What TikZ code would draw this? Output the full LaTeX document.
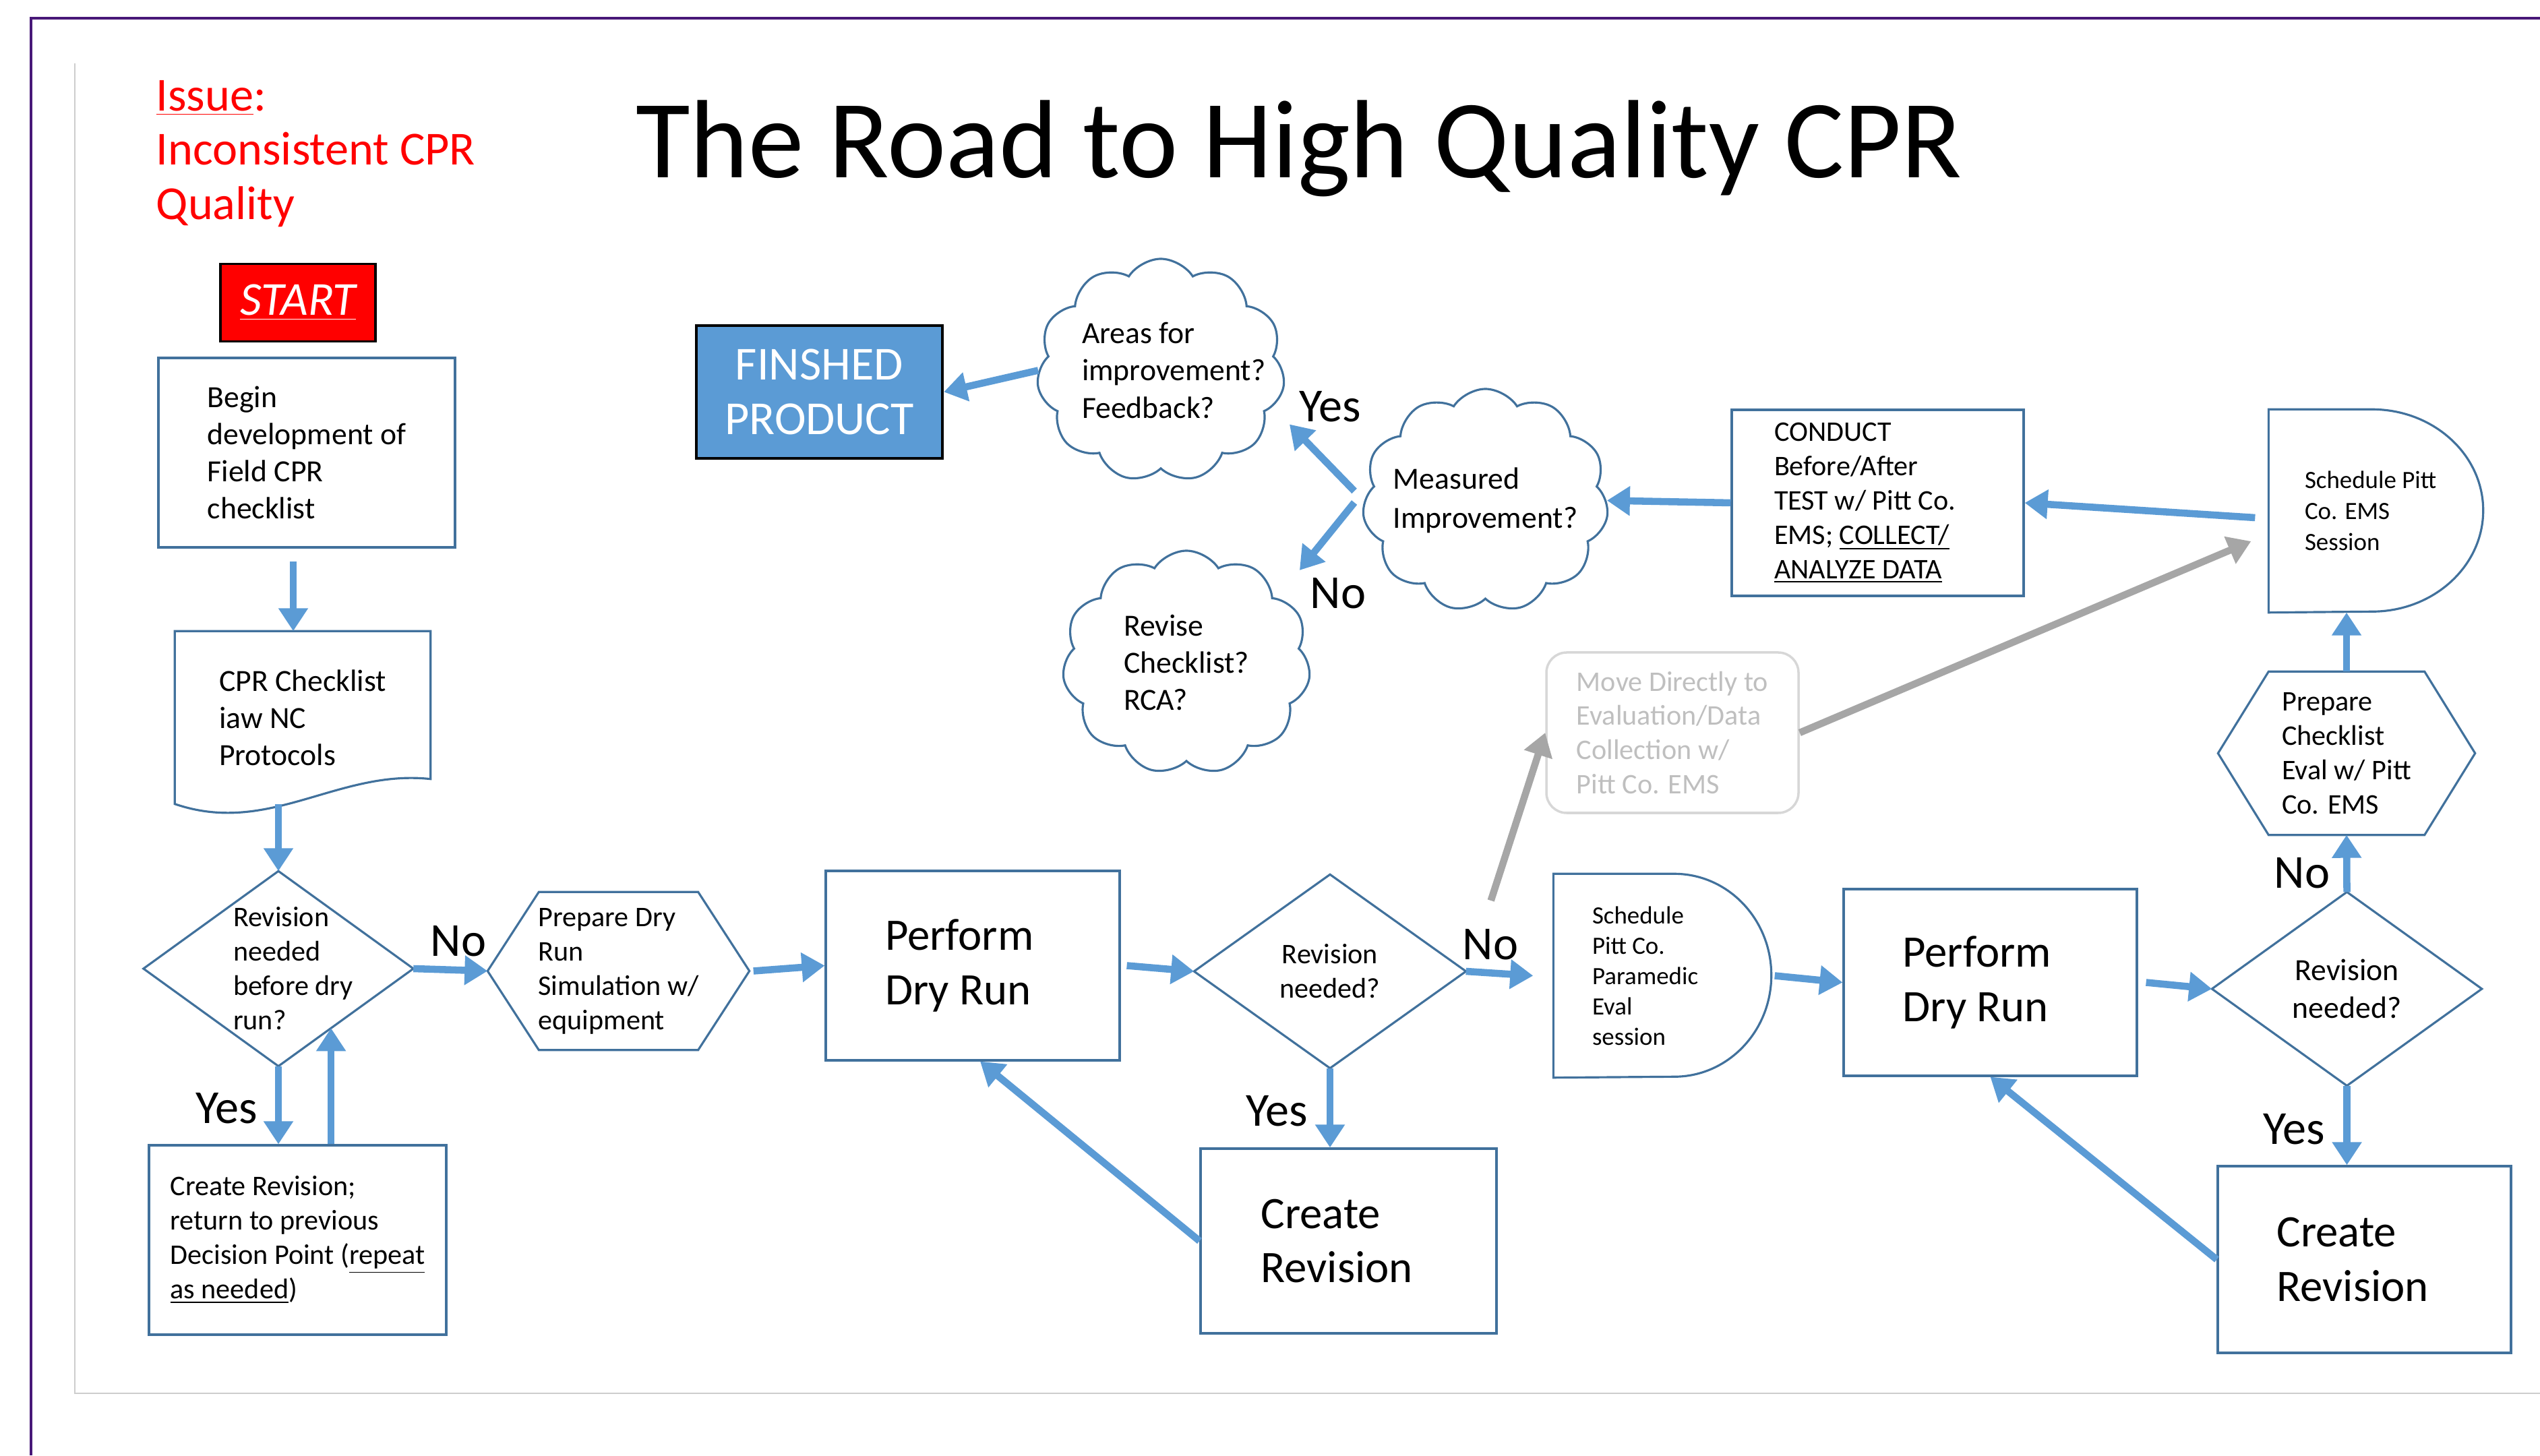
\documentclass[tikz,border=0pt]{standalone}
\usepackage{fontspec}
\setmainfont{Carlito}
\usetikzlibrary{shapes.symbols,arrows.meta,calc}
\definecolor{nodeblue}{RGB}{65,113,156}
\definecolor{arrowblue}{RGB}{91,155,213}
\definecolor{framepurple}{RGB}{72,24,120}
\definecolor{framegray}{RGB}{205,205,205}
\definecolor{arrowgray}{RGB}{166,166,166}
\definecolor{movegray}{RGB}{191,191,191}
\definecolor{moveline}{RGB}{215,215,215}
\definecolor{startred}{RGB}{255,0,0}

\begin{document}
\begin{tikzpicture}
		\tikzstyle{procbox}=[draw=nodeblue,line width=0.9pt,shape=rectangle,align=left,font=\fontsize{13}{15.6}\selectfont]
		\tikzstyle{bigproc}=[procbox,text width=2.6cm,align=flush left,font=\fontsize{19}{23}\selectfont]
		\tikzstyle{shapetext}=[shape=rectangle,align=left,font=\fontsize{12}{14.5}\selectfont]
		\tikzstyle{shapeline}=[draw=nodeblue,line width=0.9pt]
		\tikzstyle{cloudbox}=[draw=nodeblue,line width=0.9pt,cloud,cloud puffs=11,cloud puff arc=115,cloud ignores aspect]
		\tikzstyle{cloudtext}=[align=left,font=\fontsize{13}{15.7}\selectfont]
		\tikzstyle{delaytext}=[shapetext,align=flush left,font=\fontsize{10.5}{12.8}\selectfont]
		\tikzstyle{yesno}=[font=\fontsize{20}{24}\selectfont]
		\tikzstyle{flowarr}=[draw=arrowblue,line width=3pt,-{Triangle[width=0.42cm,length=0.34cm]}]
		\tikzstyle{grayarr}=[flowarr,draw=arrowgray]

		\useasboundingbox (0,0) rectangle (37.68,21.59);
		\draw[framepurple,line width=1.2pt] (0.46,0) -- (0.46,21.32) -- (37.68,21.32);
		\draw[framegray,line width=0.7pt] (1.11,20.65) -- (1.11,0.92) -- (37.68,0.92);

		\node[anchor=west,align=left,inner sep=0pt,text=startred,font=\fontsize{20}{23}\selectfont] (issue) at (2.31,19.31) {\underline{Issue}:\\Inconsistent CPR\\Quality};
		\node[anchor=base,font=\fontsize{47}{56}\selectfont] (title) at (19.27,18.95) {The Road to High Quality CPR};
		\node[draw=black,line width=1pt,fill=startred,text=white,minimum width=2.30cm,minimum height=1.15cm,font=\fontsize{20}{24}\selectfont\itshape] (start) at (4.42,17.10) {\underline{START}};

		% left column
		\node[procbox,minimum width=4.40cm,minimum height=2.81cm] (begin) at (4.55,14.875) {Begin\\development of\\Field CPR\\checklist};
		\node[shapetext,font=\fontsize{13}{15.6}\selectfont,minimum width=3.78cm,minimum height=2.55cm] (cpr) at (4.49,10.945) {CPR Checklist\\iaw NC\\Protocols};
		\draw[shapeline] (cpr.north west) -- (cpr.north east) -- ([yshift=0.37cm]cpr.south east) .. controls +(-1.38,0.15) and +(1.40,-0.48) .. (cpr.south west) -- cycle;
		\node[shapetext,text width=1.34cm,align=flush left,minimum width=3.99cm,minimum height=2.88cm] (d1) at (4.13,7.22) {Revision\\needed\\\mbox{before dry}\\run?};
		\draw[shapeline] (d1.north) -- (d1.east) -- (d1.south) -- (d1.west) -- cycle;
		\node[procbox,font=\fontsize{12}{14.5}\selectfont,minimum width=4.41cm,minimum height=2.81cm] (crev1) at (4.415,3.195) {Create Revision;\\return to previous\\Decision Point (\underline{repeat}\\\underline{as needed})};

		% bottom row
		\node[shapetext,minimum width=3.87cm,minimum height=2.33cm] (prepdry) at (9.175,7.185) {Prepare Dry\\Run\\Simulation w/\\equipment};
		\draw[shapeline] (prepdry.west) -- ([xshift=0.76cm]prepdry.north west) -- ([xshift=-0.76cm]prepdry.north east) -- (prepdry.east) -- ([xshift=-0.76cm]prepdry.south east) -- ([xshift=0.76cm]prepdry.south west) -- cycle;
		\node[bigproc,minimum width=4.36cm,minimum height=2.81cm] (perf1) at (14.43,7.265) {Perform\\Dry Run};
		\node[shapetext,align=center,minimum width=4.02cm,minimum height=2.86cm] (d2) at (19.73,7.18) {Revision\\needed?};
		\draw[shapeline] (d2.north) -- (d2.east) -- (d2.south) -- (d2.west) -- cycle;
		\node[bigproc,minimum width=4.39cm,minimum height=2.74cm] (crev2) at (20.005,3.18) {Create\\Revision};
		\node[delaytext,text width=2.08cm,minimum width=3.22cm,minimum height=3.01cm] (schedpara) at (24.66,7.115) {Schedule\\Pitt Co.\\Paramedic\\Eval\\session};
		\draw[shapeline] (schedpara.north west) -- ([xshift=-1.44cm]schedpara.north east) arc[start angle=90,end angle=-90,x radius=1.44cm,y radius=1.505cm] -- (schedpara.south west) -- cycle;
		\node[bigproc,minimum width=4.35cm,minimum height=2.77cm] (perf2) at (29.525,7.015) {Perform\\Dry Run};
		\node[shapetext,align=center,font=\fontsize{13}{16}\selectfont,minimum width=3.99cm,minimum height=2.86cm] (d3) at (34.815,6.92) {Revision\\needed?};
		\draw[shapeline] (d3.north) -- (d3.east) -- (d3.south) -- (d3.west) -- cycle;
		\node[bigproc,minimum width=4.35cm,minimum height=2.77cm] (crev3) at (35.075,2.905) {Create\\Revision};

		% upper right
		\node[shapetext,minimum width=3.80cm,minimum height=2.41cm] (prepeval) at (34.81,10.415) {Prepare\\Checklist\\Eval w/ Pitt\\Co. EMS};
		\draw[shapeline] (prepeval.west) -- ([xshift=0.75cm]prepeval.north west) -- ([xshift=-0.75cm]prepeval.north east) -- (prepeval.east) -- ([xshift=-0.75cm]prepeval.south east) -- ([xshift=0.75cm]prepeval.south west) -- cycle;
		\node[delaytext,font=\fontsize{10.5}{13}\selectfont,text width=2.11cm,minimum width=3.17cm,minimum height=3.00cm] (schedems) at (35.245,14.01) {Schedule Pitt\\Co. EMS\\Session};
		\draw[shapeline] (schedems.north west) -- ([xshift=-1.65cm]schedems.north east) arc[start angle=90,end angle=-90,x radius=1.65cm,y radius=1.50cm] -- (schedems.south west) -- cycle;
		\node[procbox,font=\fontsize{12}{14.5}\selectfont,text width=3.07cm,align=flush left,minimum width=4.33cm,minimum height=2.76cm] (conduct) at (27.855,14.13) {CONDUCT\\Before/After\\TEST w/ Pitt Co.\\EMS; \underline{COLLECT/}\\\underline{ANALYZE DATA}};
		\node[draw=moveline,line width=1pt,rounded corners=0.3cm,minimum width=3.74cm,minimum height=2.38cm,align=left,text=movegray,font=\fontsize{12}{14.5}\selectfont] (move) at (24.81,10.72) {Move Directly to\\Evaluation/Data\\Collection w/\\Pitt Co. EMS};

		% clouds
		\node[cloudbox,minimum width=3.65cm,minimum height=3.31cm] (meas) at (22.035,14.165) {};
		\node[cloudtext,font=\fontsize{13}{16.4}\selectfont] (meastxt) at (meas) {Measured\\Improvement?};
		\node[cloudbox,minimum width=3.68cm,minimum height=3.31cm] (areas) at (17.22,16.095) {};
		\node[cloudtext,text width=2.34cm,align=flush left] (areastxt) at (areas) {Areas for\\improvement?\\Feedback?};
		\node[cloudbox,minimum width=3.68cm,minimum height=3.32cm] (revise) at (17.60,11.76) {};
		\node[cloudtext] (revisetxt) at (revise) {Revise\\Checklist?\\RCA?};
		\node[draw=black,line width=1.2pt,fill=arrowblue,text=white,align=center,minimum width=3.65cm,minimum height=1.97cm,font=\fontsize{20}{23}\selectfont] (finished) at (12.155,15.775) {FINSHED\\PRODUCT};

		% yes / no
		\node[yesno] (no1) at (6.80,7.63) {No};
		\node[yesno] (yes1) at (3.36,5.15) {Yes};
		\node[yesno] (no2) at (22.11,7.58) {No};
		\node[yesno] (yes2) at (18.94,5.11) {Yes};
		\node[yesno] (yes3) at (19.73,15.56) {Yes};
		\node[yesno] (no3) at (19.85,12.79) {No};
		\node[yesno] (no4) at (34.15,8.64) {No};
		\node[yesno] (yes4) at (34.03,4.84) {Yes};

		\draw[flowarr] ([xshift=-0.2cm,yshift=-0.19cm]begin.south) -- ([xshift=-0.2cm]begin.south |- cpr.north);
		\draw[flowarr] (d1.north |- cpr.south) -- (d1.north);
		\draw[flowarr] (d1.south) -- (d1.south |- crev1.north);
		\coordinate (d1edge) at ($(d1.south)!0.39!(d1.east)$);
		\draw[flowarr] (crev1.north -| d1edge) -- (d1edge);
		\draw[flowarr] (d1.east) -- (prepdry.west);
		\draw[flowarr] ([xshift=0.06cm]prepdry.east) -- (perf1.west);
		\draw[flowarr] ([xshift=0.09cm]perf1.east) -- (d2.west);
		\draw[flowarr] (d2.east) -- ([xshift=-0.3cm]schedpara.west);
		\draw[flowarr] ([xshift=0.05cm]schedpara.east) -- (perf2.west);
		\draw[flowarr] ([xshift=0.12cm]perf2.east) -- (d3.west);
		\draw[flowarr] (d2.south) -- (d2.south |- crev2.north);
		\draw[flowarr] (d3.south) -- (d3.south |- crev3.north);
		\draw[flowarr] (crev2.west) -- ([xshift=0.11cm]perf1.south);
		\draw[flowarr] (crev3.west) -- (perf2.south);
		\draw[flowarr] (d3.north) -- (prepeval.south);
		\draw[flowarr] (prepeval.north) -- (prepeval.north |- schedems.south);
		\draw[flowarr] ([xshift=-0.2cm,yshift=-0.1cm]schedems.west) -- (conduct.east);
		\draw[flowarr] (conduct.west) -- (meas.east);
		\coordinate (fork) at ([xshift=-0.14cm]meas.west);
		\draw[flowarr] ([yshift=0.14cm]fork) -- ([shift={(0.09,-0.80)}]areas.east);
		\draw[flowarr] ([yshift=-0.03cm]fork) -- ([shift={(-0.14,1.37)}]revise.east);
		\draw[flowarr] (areas.west) -- (finished.east);
		\draw[grayarr] ([shift={(0.37,1.05)}]d2.east) -- (move.west);
		\draw[grayarr] (move.east) -- ([shift={(-0.26,-0.45)}]schedems.west);
\end{tikzpicture}
\end{document}
